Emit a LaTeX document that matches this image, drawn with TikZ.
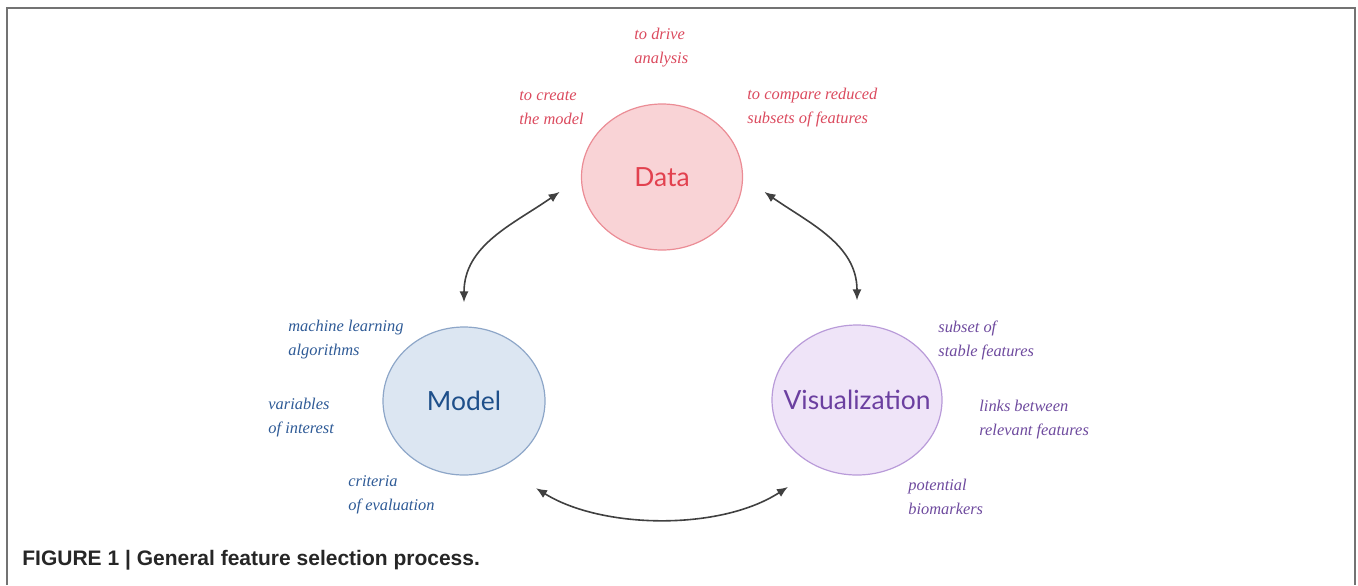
\documentclass[tikz,border=0pt]{standalone}
\usepackage{fontspec}
\newfontfamily\circfont{Lato}
\newfontfamily\capfont{Liberation Sans}
\newfontfamily\notefont{Liberation Serif}
\usepackage{tikz}
\usetikzlibrary{shapes.geometric,arrows.meta}

\definecolor{datafill}{HTML}{F9D3D6}
\definecolor{dataline}{HTML}{EB8C95}
\definecolor{datatext}{HTML}{E2414F}
\definecolor{datanote}{HTML}{DB4A5E}
\definecolor{modelfill}{HTML}{DCE6F2}
\definecolor{modelline}{HTML}{8DA6C8}
\definecolor{modeltext}{HTML}{1E4F8A}
\definecolor{modelnote}{HTML}{2E5A96}
\definecolor{visfill}{HTML}{EFE4F8}
\definecolor{visline}{HTML}{B99BD9}
\definecolor{vistext}{HTML}{6B3FA0}
\definecolor{visnote}{HTML}{6E4A9E}

\begin{document}
\begin{tikzpicture}[x=0.5pt,y=-0.5pt,
  blob/.style={ellipse,draw,line width=0.6pt,inner sep=0pt},
  word/.style={font=\circfont\fontsize{13.2}{15}\selectfont},
  note/.style={align=left,anchor=west,inner sep=0pt,font=\notefont\itshape\fontsize{8.2}{12}\selectfont},
  conn/.style={{Latex[length=5.5pt,width=4.5pt]}-{Latex[length=5.5pt,width=4.5pt]},line width=0.8pt,draw=black!75}]
                      \useasboundingbox (0,0) rectangle (1358,585);
                      \draw[black!55,line width=1pt] (7,585) -- (7,8) -- (1355,8) -- (1355,585);
                      \node[blob,fill=datafill,draw=dataline,minimum width=80.5pt,minimum height=73pt,label={[word,text=datatext]center:Data}](data)at(662,177){};
                      \node[blob,fill=modelfill,draw=modelline,minimum width=81pt,minimum height=74pt,label={[word,text=modeltext]center:Model}](model)at(464,401){};
                      \node[blob,fill=visfill,draw=visline,minimum width=85pt,minimum height=75pt,label={[word,text=vistext]center:Visualization}](vis)at(857,400){};
                      \node[note,text=datanote](drive)at(634,48){to drive\\analysis};
                      \node[note,text=datanote](create)at(519,108){to create\\the model};
                      \node[note,text=datanote](compare)at(747,108){to compare reduced\\subsets of features};
                      \node[note,text=modelnote](learn)at(288,340){machine learning\\algorithms};
                      \node[note,text=modelnote](vars)at(268,418){variables\\of interest};
                      \node[note,text=modelnote](crit)at(348,495){criteria\\of evaluation};
                      \node[note,text=visnote](stable)at(938,340){subset of\\stable features};
                      \node[note,text=visnote](links)at(979,420){links between\\relevant features};
                      \node[note,text=visnote](markers)at(908,497){potential\\biomarkers};
                      \draw[conn,shorten <=13pt,shorten >=12pt] (data.west) to[out=215,in=90,looseness=1.1] (model.north);
                      \draw[conn,shorten <=13pt,shorten >=12pt] (data.east) to[out=-35,in=90,looseness=1.1] (vis.north);
                      \draw[conn,shorten <=20pt,shorten >=18pt] (model.-60) to[out=-32,in=213,looseness=0.95] (vis.-120);
                      \node[anchor=base west,inner sep=0pt,text=black!85,font=\capfont\bfseries\fontsize{10.5}{12}\selectfont](caption)at(22,565){FIGURE 1 | General feature selection process.};
                  \end{tikzpicture}
\end{document}
